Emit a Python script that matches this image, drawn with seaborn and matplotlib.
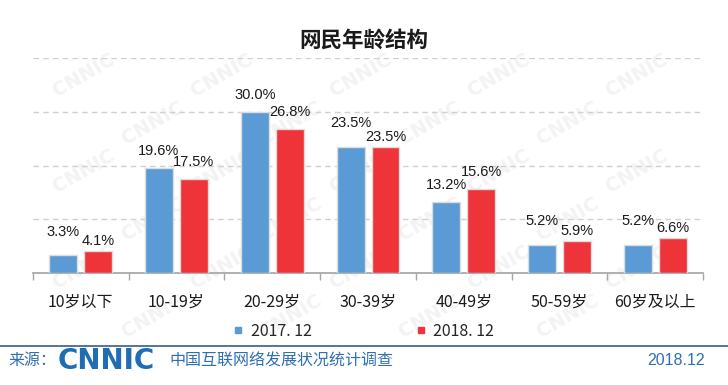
import matplotlib
matplotlib.use('Agg')
import matplotlib.pyplot as plt
from matplotlib.lines import Line2D
import seaborn as sns
import pandas as pd

# 数据
age_groups = ['10岁以下', '10-19岁', '20-29岁', '30-39岁', '40-49岁', '50-59岁', '60岁及以上']
share_2017 = [3.3, 19.6, 30.0, 23.5, 13.2, 5.2, 5.2]
share_2018 = [4.1, 17.5, 26.8, 23.5, 15.6, 5.9, 6.6]
series_names = ['2017. 12', '2018. 12']

BLUE = '#5B9BD5'
RED = '#EE3439'
FOOT_BLUE = '#2F6FB4'

sns.set_theme(style='white')
plt.rcParams['font.family'] = ['Liberation Sans', 'Noto Sans CJK SC', 'DejaVu Sans']

df = pd.DataFrame({
    'age': age_groups * 2,
    'share': share_2017 + share_2018,
    'year': [series_names[0]] * len(age_groups) + [series_names[1]] * len(age_groups),
})

fig = plt.figure(figsize=(7.28, 3.85), dpi=100)

# 水印（只放在画面内部）
for row in range(8):
    for col in range(7):
        x = col * 0.19 + 0.02 + (row % 2) * 0.095
        y = 0.93 - row * 0.125
        if 0.07 < x < 0.93 and 0.08 < y < 0.93:
            fig.text(x, y, 'CNNIC', rotation=30, fontsize=14, fontweight='bold',
                     color='#f3f3f3', ha='center', va='center', zorder=-5,
                     family='DejaVu Sans')

ax = fig.add_axes([0.045, 0.291, 0.921, 0.558])
ax.patch.set_alpha(0)

sns.barplot(data=df, x='age', y='share', hue='year',
            palette={series_names[0]: BLUE, series_names[1]: RED},
            saturation=1, width=0.73, gap=0.2, edgecolor='#dcdcdc',
            linewidth=1, legend=False, ax=ax, zorder=3)

label_sets = []
for cont, vals in zip(ax.containers, [share_2017, share_2018]):
    label_sets.append(ax.bar_label(cont, labels=[f'{v:.1f}%' for v in vals],
                                   padding=7, fontsize=10.5, color='#1a1a1a'))

# 两个数值相同时上下错开标签，避免重叠
for i, (a, b) in enumerate(zip(share_2017, share_2018)):
    if abs(a - b) < 1.5:
        label_sets[0][i].xyann = (0, 12)
        label_sets[1][i].xyann = (0, 2)

ax.set_ylim(0, 40)
ax.set_xlim(-0.5, len(age_groups) - 0.5)
ax.set_yticks([10, 20, 30, 40])
ax.set_yticklabels([])
ax.tick_params(axis='y', length=0)
ax.yaxis.grid(True, linestyle=(0, (4, 3)), color='#d0d0d0', linewidth=1)
ax.set_axisbelow(True)

ax.set_xticks(range(len(age_groups)))
ax.set_xticklabels(age_groups, family=['Noto Sans CJK SC'], fontsize=11.5,
                   color='#1a1a1a')
ax.set_xticks([i - 0.5 for i in range(len(age_groups) + 1)], minor=True)
ax.tick_params(axis='x', which='major', length=0, pad=15)
ax.tick_params(axis='x', which='minor', length=5, width=1, color='#a6a6a6',
               direction='out', bottom=True)
ax.set_xlabel('')
ax.set_ylabel('')
for s in ['top', 'right', 'left']:
    ax.spines[s].set_visible(False)
ax.spines['bottom'].set_color('#a6a6a6')

fig.text(0.5, 0.896, '网民年龄结构', ha='center', va='center', fontsize=15.5,
         fontweight='bold', family=['Noto Sans CJK SC'], color='#1a1a1a')

handles = [Line2D([], [], marker='s', linestyle='', markersize=5, color=c)
           for c in [BLUE, RED]]
fig.legend(handles, series_names, loc='center', bbox_to_anchor=(0.5, 0.14),
           ncol=2, frameon=False, handlelength=0.6, handletextpad=0.5,
           columnspacing=6.5, prop={'family': 'Noto Sans CJK SC', 'size': 11.5})

# 页脚
fig.add_artist(Line2D([0, 1], [0.102, 0.102], color='#4A6792', linewidth=1.3,
                      transform=fig.transFigure))
fig.text(0.011, 0.063, '来源：', fontsize=11.5, color=FOOT_BLUE, va='center',
         family=['Noto Sans CJK SC'])
fig.text(0.079, 0.063, 'CNNIC', fontsize=20, color='#1F6DB3', va='center',
         fontweight='heavy', family='DejaVu Sans')
fig.text(0.233, 0.063, '中国互联网络发展状况统计调查', fontsize=11.5,
         color=FOOT_BLUE, va='center', family=['Noto Sans CJK SC'])
fig.text(0.968, 0.063, '2018.12', fontsize=11.5, color=FOOT_BLUE, va='center',
         ha='right')

fig.savefig('out.png', dpi=100)
